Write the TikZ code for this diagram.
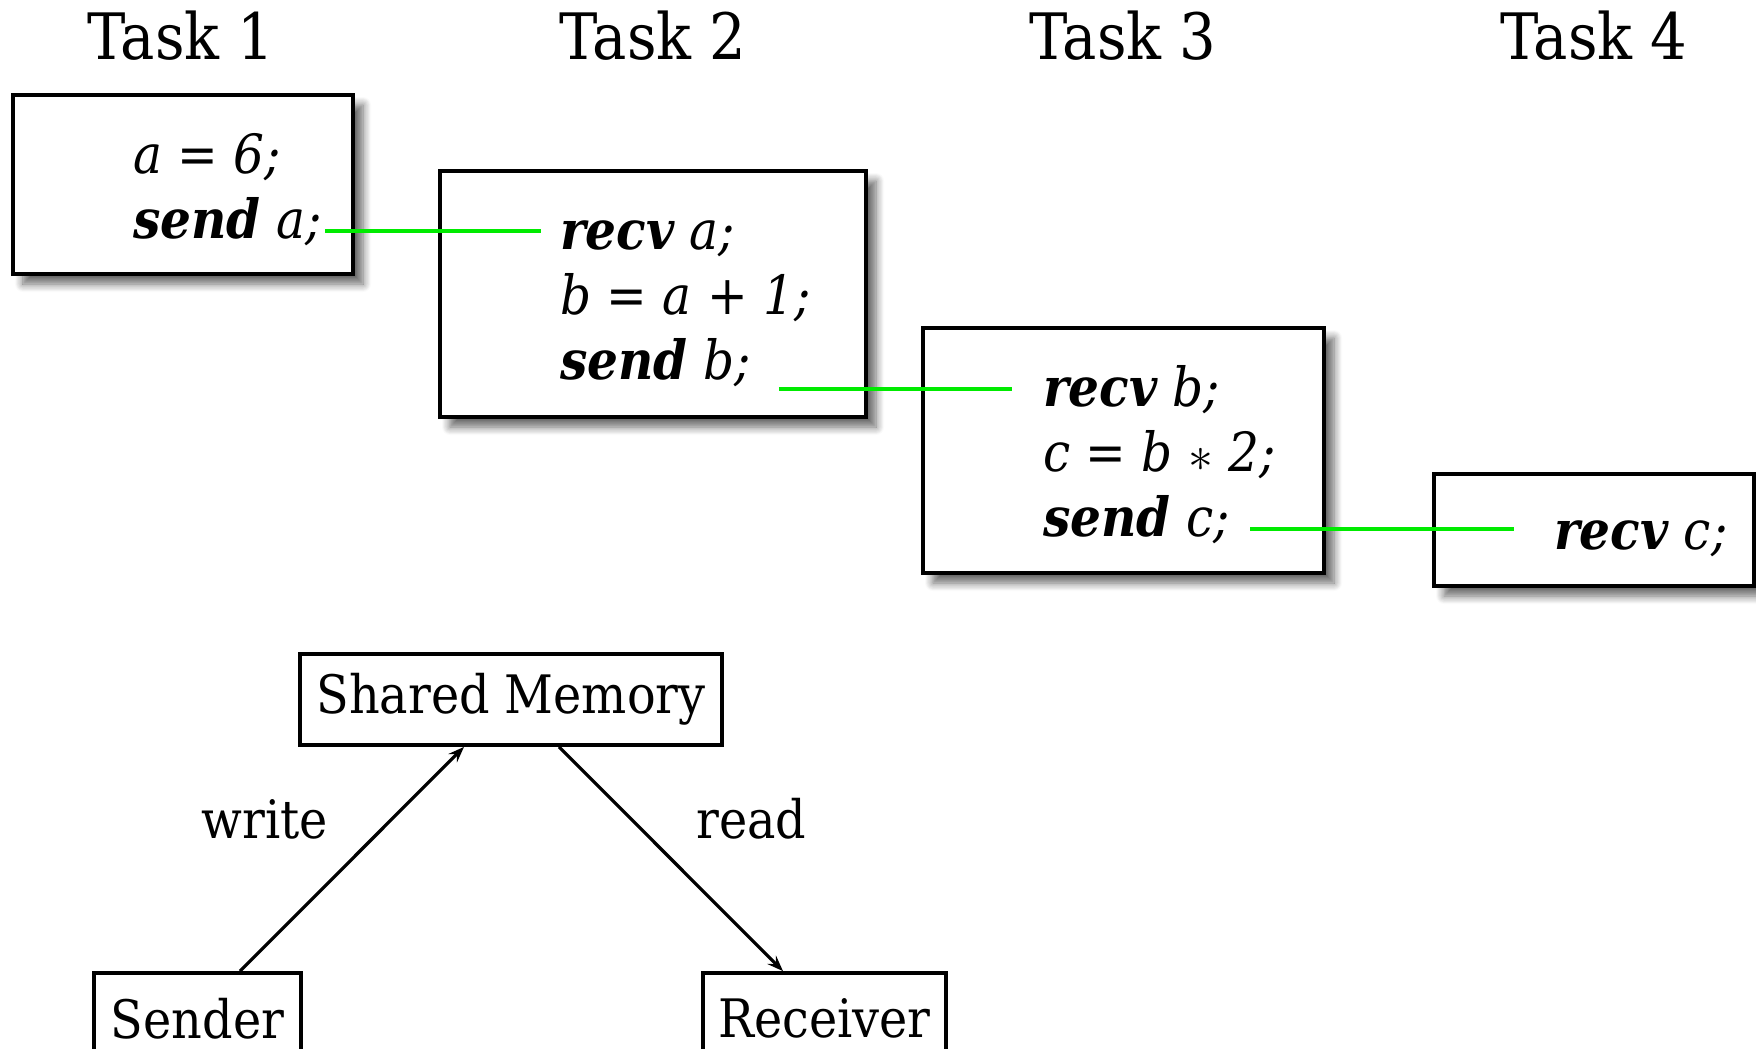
\documentclass[tikz,border=0pt]{standalone}
\usepackage{fontspec}
\setmainfont{DejaVu Serif Condensed}
\usetikzlibrary{shadows.blur,arrows.meta}

\definecolor{msggreen}{RGB}{0,235,0}

\begin{document}
\begin{tikzpicture}[x=0.5pt,y=-0.5pt,
    taskbox/.style={draw,line width=2.3pt,fill=white,
        blur shadow={shadow xshift=5pt,shadow yshift=-5pt,shadow blur radius=4pt,
            shadow blur steps=8,shadow opacity=60}},
    code/.style={anchor=base west,inner sep=0pt,
        font=\fontsize{27}{32}\selectfont\itshape},
    title/.style={anchor=base,font=\fontsize{32}{38}\selectfont},
    msg/.style={msggreen,line width=2.2pt},
    plainbox/.style={draw,line width=1.9pt,minimum height=45.5pt,
        font=\fontsize{26.5}{32}\selectfont},
    flow/.style={-{Stealth[length=8pt,width=6pt,inset=3pt]},line width=1.6pt},
    verb/.style={font=\fontsize{26.5}{32}\selectfont}]
        \useasboundingbox (0,0) rectangle (1756,1049);

        % Títulos de las tareas
        \foreach \i/\x in {1/181,2/653,3/1123,4/1594} {
            \node[title] (task\i) at (\x,59) {Task \i};
        }

        % Cajas de código
        \node[taskbox,minimum width=170pt,minimum height=89.5pt] (box1) at (183,184.5) {};
        \node[taskbox,minimum width=213pt,minimum height=123pt] (box2) at (653,294) {};
        \node[taskbox,minimum width=200.5pt,minimum height=122.5pt] (box3) at (1123.5,450.5) {};
        \node[taskbox,minimum width=160pt,minimum height=56pt] (box4) at (1594,530) {};

        \node[code] (t1set) at ([xshift=61pt,yshift=-40.5pt]box1.north west) {a = 6;};
        \node[code] (t1send) at ([yshift=-32.5pt]t1set.base west) {\textbf{send} a;};

        \node[code] (t2recv) at ([xshift=61pt,yshift=-40.5pt]box2.north west) {\textbf{recv} a;};
        \node[code] (t2add) at ([yshift=-32.5pt]t2recv.base west) {b = a + 1;};
        \node[code] (t2send) at ([yshift=-32.5pt]t2add.base west) {\textbf{send} b;};

        \node[code] (t3recv) at ([xshift=61pt,yshift=-40.5pt]box3.north west) {\textbf{recv} b;};
        \node[code] (t3mul) at ([yshift=-32.5pt]t3recv.base west) {c = b $\ast$ 2;};
        \node[code] (t3send) at ([yshift=-32.5pt]t3mul.base west) {\textbf{send} c;};

        \node[code] (t4recv) at ([xshift=61pt,yshift=-39pt]box4.north west) {\textbf{recv} c;};

        % Mensajes entre tareas
        \coordinate (m1a) at ([xshift=1.5pt,yshift=4pt]t1send.base east);
        \coordinate (m1b) at ([xshift=-9.5pt]t2recv.west);
        \draw[msg] (m1a) -- (m1a -| m1b);
        \coordinate (m2a) at ([xshift=14pt,yshift=-4.5pt]t2send.base east);
        \coordinate (m2b) at ([xshift=-15.5pt]t3recv.west);
        \draw[msg] (m2a) -- (m2a -| m2b);
        \coordinate (m3a) at ([xshift=10pt,yshift=4pt]t3send.base east);
        \coordinate (m3b) at ([xshift=-20pt]t4recv.west);
        \draw[msg] (m3a) -- (m3a -| m3b);

        % Memoria compartida
        \node[plainbox,minimum width=211pt] (shmem) at (511,699.5) {Shared Memory};
        \node[plainbox,minimum width=103.5pt] (sender) at (197.5,1018.5) {Sender};
        \node[plainbox,minimum width=121.5pt] (receiver) at (824.5,1018.5) {Receiver};

        \draw[flow] ([xshift=21.25pt]sender.north) -- ([xshift=-23.5pt]shmem.south)
            node[verb,midway,left=8pt,yshift=20pt] (wlab) {write};
        \draw[flow] ([xshift=24pt]shmem.south) -- ([xshift=-20.75pt]receiver.north)
            node[verb,midway,right=8.5pt,yshift=20pt] (rlab) {read};
\end{tikzpicture}
\end{document}
